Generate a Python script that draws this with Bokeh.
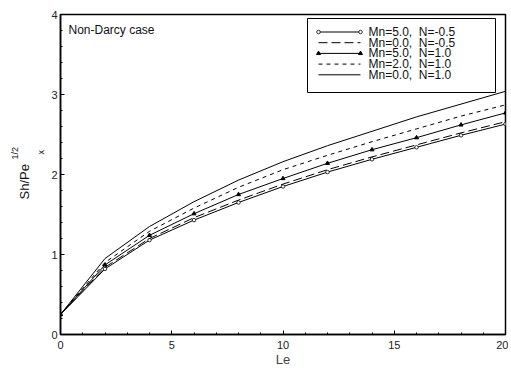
import numpy as np
from bokeh.plotting import figure
from bokeh.models import Range1d, Label, SingleIntervalTicker, Title
from bokeh.embed import file_html
from bokeh.resources import INLINE

# ---- data ----
le = [0, 2, 4, 6, 8, 10, 12, 14, 16, 18, 20]
mn5_nm05 = [0.25, 0.82, 1.18, 1.43, 1.65, 1.85, 2.03, 2.19, 2.34, 2.49, 2.63]
mn0_nm05 = [0.25, 0.84, 1.20, 1.46, 1.68, 1.88, 2.06, 2.22, 2.37, 2.52, 2.66]
mn5_n1 = [0.25, 0.87, 1.24, 1.51, 1.75, 1.95, 2.14, 2.31, 2.46, 2.62, 2.77]
mn2_n1 = [0.25, 0.90, 1.29, 1.58, 1.84, 2.06, 2.24, 2.41, 2.57, 2.73, 2.87]
mn0_n1 = [0.25, 0.95, 1.35, 1.66, 1.93, 2.16, 2.36, 2.54, 2.72, 2.88, 3.04]
labels = ["Mn=5.0,\u00a0 N=-0.5", "Mn=0.0,\u00a0 N=-0.5", "Mn=5.0,\u00a0 N=1.0",
          "Mn=2.0,\u00a0 N=1.0", "Mn=0.0,\u00a0 N=1.0"]

FONT = "Liberation Sans"
H = 369

p = figure(width=508, height=H, output_backend="svg", toolbar_location=None,
           x_range=Range1d(0, 20), y_range=Range1d(0, 4),
           min_border_left=60, min_border_right=3, min_border_top=14, min_border_bottom=20)
p.grid.visible = False
p.outline_line_color = "black"
p.outline_line_width = 1.5

for ax in (p.xaxis[0], p.yaxis[0]):
    ax.axis_line_width = 1.5
    ax.major_tick_in = 4
    ax.major_tick_out = 0
    ax.minor_tick_in = 2
    ax.minor_tick_out = 0
    ax.major_label_text_font = FONT
    ax.major_label_text_font_size = "11px"
    ax.major_label_text_color = "#222222"
    ax.axis_label_text_font = FONT
    ax.axis_label_text_font_style = "normal"

p.xaxis[0].ticker = SingleIntervalTicker(interval=5, num_minor_ticks=5)
p.yaxis[0].ticker = SingleIntervalTicker(interval=1, num_minor_ticks=5)
p.xaxis[0].major_label_standoff = 6
p.yaxis[0].major_label_standoff = 3
p.xaxis[0].axis_label = "Le"
p.xaxis[0].axis_label_text_font_size = "13px"
p.xaxis[0].axis_label_standoff = 0

# ---- curves ----
p.line(le, mn5_nm05, line_color="black", line_width=1)
p.scatter(le, mn5_nm05, marker="circle", size=3.5, fill_color="white", line_color="black", line_width=0.8)
p.line(le, mn0_nm05, line_color="black", line_width=1, line_dash="9 4")
p.line(le, mn5_n1, line_color="black", line_width=1)
p.scatter(le, mn5_n1, marker="triangle", size=4, fill_color="black", line_color="black")
p.line(le, mn2_n1, line_color="black", line_width=1, line_dash="4 4")
p.line(le, mn0_n1, line_color="black", line_width=1)

# ---- helpers to place annotations by pixel position ----
def dx(px):
    return (px - 60) / 22.25

def dy(py):
    return (334 - py) / 80.0

# ---- manual legend ----
lx0, lx1 = dx(307), dx(495)
ly0, ly1 = dy(92), dy(18)
p.quad(left=[lx0], right=[lx1], bottom=[ly0], top=[ly1], fill_color="white",
       line_color="black", line_width=1)
rows = [dy(31.5), dy(42.2), dy(52.9), dy(63.6), dy(74.3)]
sx0, sx1 = dx(318), dx(360)
styles = [("solid", "circle"), ("9 4", None), ("solid", "triangle"), ("4 4", None), ("solid", None)]
for (dash, mk), yy, lab in zip(styles, rows, labels):
    p.line([sx0, sx1], [yy, yy], line_color="black", line_width=1, line_dash=dash)
    if mk == "circle":
        p.scatter([sx0, sx1], [yy, yy], marker="circle", size=3.5, fill_color="white",
                  line_color="black", line_width=0.8)
    elif mk == "triangle":
        p.scatter([sx0, sx1], [yy, yy], marker="triangle", size=4, fill_color="black",
                  line_color="black")
    p.add_layout(Label(x=dx(368), y=yy, text=lab, text_font=FONT, text_font_size="12px",
                       text_baseline="middle", text_align="left", text_color="#111111"))

p.add_layout(Label(x=dx(68), y=dy(29), text="Non-Darcy case", text_font=FONT,
                   text_font_size="12px", text_baseline="middle", text_align="left",
                   text_color="#111111"))

# ---- y axis label: Sh/Pe_x^{1/2}, built from three side titles ----
def ytitle(text, size, offset, standoff=0):
    return Title(text=text, align="left", offset=offset, standoff=standoff,
                 text_font=FONT, text_font_size=size, text_font_style="normal",
                 text_color="#111111")

p.add_layout(ytitle("x", "9px", 180, standoff=6), "left")
p.add_layout(ytitle("Sh/Pe", "13px", 135, standoff=-3), "left")
p.add_layout(ytitle("1/2", "9px", 175, standoff=-7), "left")

open("out.html", "w").write(file_html(p, INLINE))
